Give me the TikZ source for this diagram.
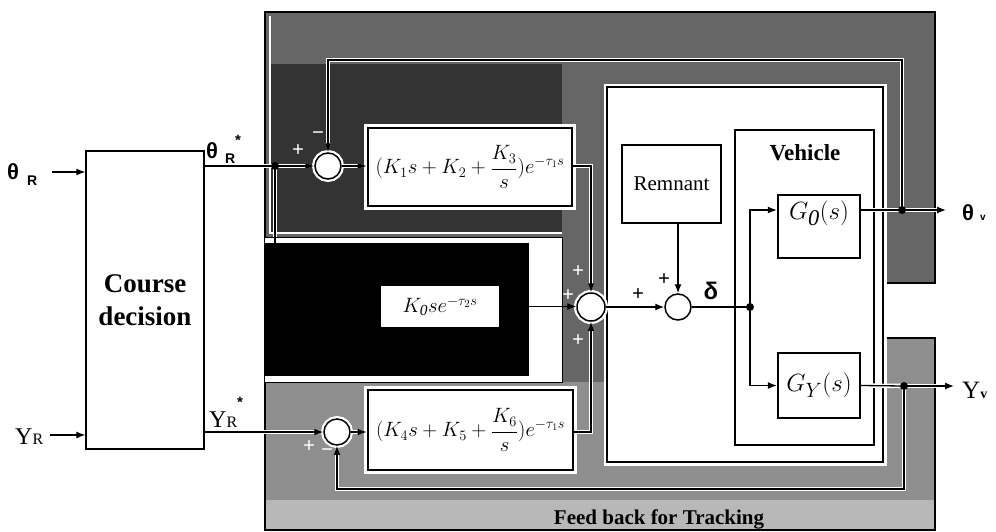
\documentclass[tikz,border=0pt]{standalone}
\usepackage{fontspec}
\setmainfont{Liberation Serif}
\newfontfamily\lsans{Liberation Sans}
\usetikzlibrary{arrows.meta}
\begin{document}
\begin{tikzpicture}[x=1pt,y=-1pt,
  sig/.style={line width=1.3pt},
  arr/.style={-{Latex[length=9pt,width=7pt]}},
  halo/.style={preaction={draw=white,line width=4.5pt}},
  sumj/.style={circle,draw,line width=1.5pt,fill=white,minimum size=26pt,inner sep=0pt},
  sumh/.style={sumj,preaction={draw=white,line width=6pt}},
  kblk/.style={draw,line width=2.8pt,fill=white,inner sep=0pt,preaction={draw=white,line width=8.5pt}},
  gblk/.style={draw,line width=2.4pt,fill=white,inner sep=0pt},
  plainblk/.style={draw,line width=1.4pt,fill=white,inner sep=0pt},
  dotn/.style={circle,fill,inner sep=0pt,minimum size=8pt},
  sgn/.style={font=\fontsize{21}{21}\selectfont\bfseries,inner sep=0pt},
  wsgn/.style={sgn,text=white},
  mathf/.style={font=\fontsize{20.5}{24}\selectfont},
]
\useasboundingbox (0,0) rectangle (996,531);
% ---------- shaded regions ----------
\fill[black!60] (265,12) -- (935,12) -- (935,283) -- (883,283) -- (883,338)
  -- (935,338) -- (935,530) -- (265,530) -- cycle;
\fill[black!80] (270,64) rectangle (562,233);
\fill[black!44] (265,382) rectangle (607,530);
\fill[black!44] (607,462) rectangle (935,530);
\fill[black!44] (883,338) rectangle (935,462);
\fill[black!28] (265,500) rectangle (935,530);
\draw[white,line width=1.2pt] (270,16) -- (270,233) -- (562,233);
\draw[line width=1.5pt] (265,12) -- (935,12) -- (935,283) -- (883,283) -- (883,338)
  -- (935,338) -- (935,530) -- (265,530) -- cycle;
% hole with the feed-forward block
\fill[white] (265,237) rectangle (562,382);
\draw[line width=1pt] (265,237) -- (562,237) -- (562,382) -- (265,382);
\fill[black] (265,243) rectangle (529,376);
% inner (operator) region
\draw[line width=2.5pt,fill=white,preaction={draw=white,line width=7pt}] (607,87) rectangle (883,462);
% ---------- blocks ----------
\node[plainblk,line width=1.3pt,minimum width=118pt,minimum height=298pt,align=center,
  font=\fontsize{27}{33}\selectfont\bfseries] (cd) at (145,300) {Course\\decision};
\node[sumh] (J1) at (328,166) {};
\node[kblk,minimum width=204pt,minimum height=78pt,mathf] (B1) at (470,167)
  {$(K_1s+K_2+\displaystyle\frac{K_3}{s})e^{-\tau_1 s}$};
\node[sumh] (J2) at (337,432) {};
\node[kblk,minimum width=205pt,minimum height=80pt,mathf] (B2) at (470.5,430)
  {$(K_4s+K_5+\displaystyle\frac{K_6}{s})e^{-\tau_1 s}$};
\node[fill=white,minimum width=118pt,minimum height=41pt,inner sep=0pt,
  font=\fontsize{22}{24}\selectfont] (K0) at (440,306.5) {$K_{\mathit{0}}se^{-\tau_2 s}$};
\node[sumh,minimum size=28pt] (JM) at (591,307) {};
\node[sumj] (J3) at (678,307) {};
\node[plainblk,line width=1.6pt,minimum width=99pt,minimum height=78pt,
  font=\fontsize{21}{21}\selectfont] (Rem) at (671.5,184) {Remnant};
\node[plainblk,line width=1.5pt,minimum width=139pt,minimum height=315pt] (veh) at (804.5,287.5) {};
\node[font=\fontsize{23}{23}\selectfont\bfseries] (vehl) at (805,153) {Vehicle};
\node[gblk,minimum width=82pt,minimum height=63pt] (G0) at (819,226.5) {};
\node[font=\fontsize{32}{32}\selectfont] (G0t) at (819,213) {$G_{\mathit{0}}(s)$};
\node[gblk,minimum width=82pt,minimum height=65pt,font=\fontsize{32}{32}\selectfont] (GY) at (819,385.5) {$G_Y(s)$};
% ---------- coordinates ----------
\coordinate (thin) at (52,172);
\coordinate (yin) at (50,435);
\coordinate (p1) at (275,166);
\coordinate (holetop) at (275,237);
\coordinate (p2) at (750,307);
\coordinate (p3) at (902,210);
\coordinate (p4) at (904,386);
\coordinate (fb1) at (902,60);
\coordinate (fb2) at (904,489);
\coordinate (thvout) at (946,210);
\coordinate (yvout) at (954,386);
% ---------- connectors ----------
\draw[sig,arr] (thin) -- (thin -| cd.west);
\draw[sig,arr] (yin) -- (yin -| cd.west);
\draw[sig,halo] (p1 -| cd.east) -- (p1);
\draw[sig,halo,arr] (p1) -- (J1.west);
\draw[sig,halo] (p1) -- (holetop);
\draw[sig,arr] (holetop) |- (K0.west);
\draw[sig,halo,arr] (J1.east) -- (J1.east -| B1.west);
\draw[sig,halo,arr] (B1.east |- J1) -| (JM.north);
\draw[sig,arr] (K0.east) -- (K0.east -| JM.west);
\draw[sig,halo,arr] (cd.east |- J2) -- (J2.west);
\draw[sig,halo,arr] (J2.east) -- (J2.east -| B2.west);
\draw[sig,halo,arr] (B2.east |- J2) -| (JM.south);
\draw[sig,arr] (JM.east) -- (J3.west);
\draw[sig,arr] (Rem.south -| J3) -- (J3.north);
\draw[sig] (J3.east) -- (p2);
\draw[sig,arr] (p2) |- (G0.west |- p3);
\draw[sig,arr] (p2) |- (GY.west);
\draw[sig,halo] (G0.east |- p3) -- (p3);
\draw[sig,halo,arr] (p3) -- (thvout);
\draw[sig,halo] (GY.east) -- (p4);
\draw[sig,halo,arr] (p4) -- (yvout);
\draw[sig,halo,arr] (p3) -- (fb1) -| (J1.north);
\draw[sig,halo,arr] (p4) -- (fb2) -| (J2.south);
% ---------- dots ----------
\node[dotn] (d1) at (p1) {};
\node[dotn] (d2) at (p2) {};
\node[dotn] (d3) at (p3) {};
\node[dotn] (d4) at (p4) {};
% ---------- signs ----------
\node[wsgn] (s1) at (298,151) {+};
\node[wsgn] (s2) at (318,136) {−};
\node[wsgn] (s3) at (309,447) {+};
\node[wsgn] (s4) at (327,453) {−};
\node[wsgn] (s5) at (578,272) {+};
\node[wsgn] (s6) at (568,296) {+};
\node[wsgn] (s7) at (578,341) {+};
\node[sgn] (s8) at (638,295) {+};
\node[sgn] (s9) at (664,280) {+};
% ---------- labels ----------
\node[anchor=base west,inner sep=0pt] (lthR) at (7,179)
  {\lsans\bfseries\fontsize{22}{22}\selectfont θ\hspace{8pt}\raisebox{-6pt}{\fontsize{14}{14}\selectfont R}};
\node[anchor=base west,inner sep=0pt] (lyR) at (15,444)
  {\fontsize{24}{24}\selectfont Y\fontsize{16}{16}\selectfont R};
\node[anchor=base west,inner sep=0pt] (lthRs) at (206,158)
  {\lsans\bfseries\fontsize{22}{22}\selectfont θ\hspace{7pt}\raisebox{-5pt}{\fontsize{14}{14}\selectfont R}\raisebox{13pt}{\fontsize{15}{15}\selectfont *}};
\node[anchor=base west,inner sep=0pt] (lyRs) at (209,427)
  {\fontsize{24}{24}\selectfont Y\fontsize{16}{16}\selectfont R\raisebox{20pt}{\lsans\bfseries\fontsize{15}{15}\selectfont *}};
\node[font=\lsans\bfseries\fontsize{24}{24}\selectfont] (ldelta) at (711,291) {δ};
\node[anchor=base west,inner sep=0pt] (lthv) at (962,220)
  {\lsans\bfseries\fontsize{22}{22}\selectfont θ\hspace{6pt}\fontsize{10}{10}\selectfont v};
\node[anchor=base west,inner sep=0pt] (lyv) at (962,398)
  {\fontsize{25}{25}\selectfont Y\fontsize{14}{14}\selectfont\bfseries v};
\node[font=\fontsize{21}{21}\selectfont\bfseries] (fbt) at (659,519) {Feed back for Tracking};
\end{tikzpicture}
\end{document}
